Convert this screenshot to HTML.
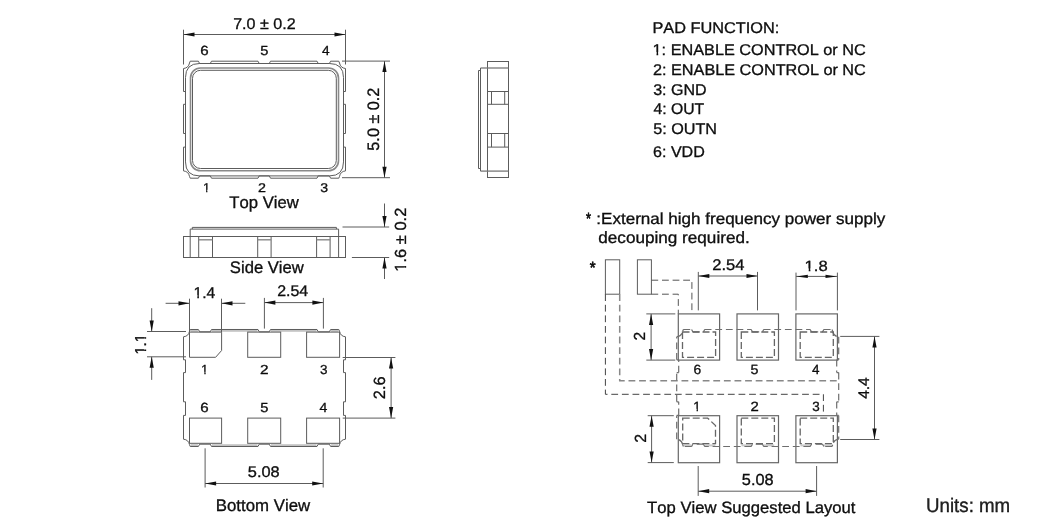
<!DOCTYPE html>
<html><head><meta charset="utf-8"><title>Package Drawing</title>
<style>
html,body{margin:0;padding:0;background:#fff;}
body{width:1037px;height:530px;overflow:hidden;}
svg{display:block;font-family:"Liberation Sans",sans-serif;font-kerning:none;will-change:transform;}
text{font-kerning:none;font-feature-settings:"kern" 0;text-rendering:geometricPrecision;stroke:#000;stroke-width:0.3px;}
</style></head><body>
<svg width="1037" height="530" viewBox="0 0 1037 530">
<rect x="0" y="0" width="1037" height="530" fill="#fff"/>
<line x1="183.5" y1="29.7" x2="183.5" y2="64.5" stroke="#5c5c5c" stroke-width="1" />
<line x1="345.5" y1="29.7" x2="345.5" y2="64.5" stroke="#5c5c5c" stroke-width="1" />
<line x1="183.5" y1="34.5" x2="345.5" y2="34.5" stroke="#5c5c5c" stroke-width="1" />
<polygon points="183.5,34.5 194.5,32.4 194.5,36.6" fill="#111" stroke="none"/>
<polygon points="345.5,34.5 334.5,32.4 334.5,36.6" fill="#111" stroke="none"/>
<text x="233.18" y="28.60" font-size="15.55" textLength="62.42" lengthAdjust="spacingAndGlyphs" fill="#111" >7.0 ± 0.2</text>
<text x="200.24" y="55.20" font-size="13.23" textLength="8.41" lengthAdjust="spacingAndGlyphs" fill="#111" >6</text>
<text x="260.31" y="55.20" font-size="13.23" textLength="8.20" lengthAdjust="spacingAndGlyphs" fill="#111" >5</text>
<text x="321.90" y="55.20" font-size="13.23" textLength="7.60" lengthAdjust="spacingAndGlyphs" fill="#111" >4</text>
<text x="203.02" y="191.80" font-size="12.65" textLength="7.03" lengthAdjust="spacingAndGlyphs" fill="#111" >1</text>
<rect x="202.77" y="189.78" width="3.34" height="3.62" fill="#fff"/>
<rect x="207.39" y="189.78" width="3.02" height="3.62" fill="#fff"/>
<text x="257.99" y="191.80" font-size="12.65" textLength="7.93" lengthAdjust="spacingAndGlyphs" fill="#111" >2</text>
<text x="320.16" y="191.80" font-size="12.65" textLength="7.84" lengthAdjust="spacingAndGlyphs" fill="#111" >3</text>
<text x="229.32" y="207.80" font-size="16.86" textLength="69.44" lengthAdjust="spacingAndGlyphs" fill="#111" >Top View</text>
<path d="M183.5,68.5 Q188.5,68 189.5,63 L190.2,61.2 H198.4 L199.6,63.5 H210.3 L211.5,61.2 H258 L259.2,63.5 H269.3 L270.5,61.2 H317 L318.2,63.5 H329.4 L330.6,61.2 H338.8 L339.5,63 Q340.5,68 345.5,68.5 V91.5 H343.5 V104.3 H345.5 V133.5 H343.5 V147.1 H345.5 V170.9 Q340.5,171.4 339.5,176.4 L338.8,178.2 H330.6 L329.4,175.9 H318.2 L317,178.2 H270.5 L269.3,175.9 H259.2 L258,178.2 H211.5 L210.3,175.9 H199.6 L198.4,178.2 H190.2 L189.5,176.4 Q188.5,171.4 183.5,170.9 V147.1 H185.5 V133.5 H183.5 V104.3 H185.5 V91.5 H183.5 Z" stroke="#5c5c5c" stroke-width="1" fill="none" />
<path d="M199.5,63.5 H329.5 Q343.5,63.5 343.5,77.5 V161.9 Q343.5,175.9 329.5,175.9 H199.5 Q185.5,175.9 185.5,161.9 V77.5 Q185.5,63.5 199.5,63.5 Z" stroke="#5c5c5c" stroke-width="1" fill="none" />
<rect x="190.5" y="68" width="148.0" height="102.80000000000001" stroke="#8a8a8a" stroke-width="1.6" fill="none" rx="10" ry="10"/>
<rect x="192.5" y="70.3" width="143.8" height="98.2" stroke="#5c5c5c" stroke-width="1" fill="none" rx="8" ry="8"/>
<line x1="342" y1="61.1" x2="390" y2="61.1" stroke="#5c5c5c" stroke-width="1" />
<line x1="342" y1="177.7" x2="390" y2="177.7" stroke="#5c5c5c" stroke-width="1" />
<line x1="384.5" y1="61.1" x2="384.5" y2="177.7" stroke="#5c5c5c" stroke-width="1" />
<polygon points="384.5,61.1 382.4,72.1 386.6,72.1" fill="#111" stroke="none"/>
<polygon points="384.5,177.7 382.4,166.7 386.6,166.7" fill="#111" stroke="none"/>
<text x="378.60" y="150.65" font-size="16.57" textLength="63.06" lengthAdjust="spacingAndGlyphs" fill="#111" transform="rotate(-90 378.60 150.65)" >5.0 ± 0.2</text>
<rect x="487.5" y="61.5" width="21.0" height="116.0" stroke="#5c5c5c" stroke-width="1" fill="none" />
<line x1="480.5" y1="68" x2="508.5" y2="68" stroke="#777" stroke-width="1.3" />
<line x1="480.5" y1="171.1" x2="508.5" y2="171.1" stroke="#777" stroke-width="1.3" />
<line x1="480.5" y1="68" x2="480.5" y2="171.1" stroke="#5c5c5c" stroke-width="1" />
<polyline points="480.5,70.5 478.5,70.5 478.5,168.5 480.5,168.5" stroke="#5c5c5c" stroke-width="1" fill="none" />
<line x1="487.5" y1="91.5" x2="508.5" y2="91.5" stroke="#5c5c5c" stroke-width="1" />
<line x1="487.5" y1="104.3" x2="508.5" y2="104.3" stroke="#5c5c5c" stroke-width="1" />
<line x1="491.5" y1="91.5" x2="491.5" y2="104.3" stroke="#5c5c5c" stroke-width="1" />
<line x1="504.7" y1="91.5" x2="504.7" y2="104.3" stroke="#5c5c5c" stroke-width="1" />
<line x1="487.5" y1="133.5" x2="508.5" y2="133.5" stroke="#5c5c5c" stroke-width="1" />
<line x1="487.5" y1="147.1" x2="508.5" y2="147.1" stroke="#5c5c5c" stroke-width="1" />
<line x1="491.5" y1="133.5" x2="491.5" y2="147.1" stroke="#5c5c5c" stroke-width="1" />
<line x1="504.7" y1="133.5" x2="504.7" y2="147.1" stroke="#5c5c5c" stroke-width="1" />
<rect x="183.5" y="236.5" width="162.0" height="21.0" stroke="#5c5c5c" stroke-width="1" fill="none" />
<polyline points="190.2,257.5 190.2,229.1 338.6,229.1 338.6,257.5" stroke="#5c5c5c" stroke-width="1" fill="none" />
<polyline points="192.3,229.1 192.3,227.4 336.4,227.4 336.4,229.1" stroke="#5c5c5c" stroke-width="1" fill="none" />
<line x1="198.7" y1="236.5" x2="198.7" y2="257.5" stroke="#5c5c5c" stroke-width="1" />
<line x1="212.5" y1="236.5" x2="212.5" y2="257.5" stroke="#5c5c5c" stroke-width="1" />
<line x1="198.7" y1="239.8" x2="212.5" y2="239.8" stroke="#888" stroke-width="1.4" />
<line x1="257.7" y1="236.5" x2="257.7" y2="257.5" stroke="#5c5c5c" stroke-width="1" />
<line x1="271.1" y1="236.5" x2="271.1" y2="257.5" stroke="#5c5c5c" stroke-width="1" />
<line x1="257.7" y1="239.8" x2="271.1" y2="239.8" stroke="#888" stroke-width="1.4" />
<line x1="316.6" y1="236.5" x2="316.6" y2="257.5" stroke="#5c5c5c" stroke-width="1" />
<line x1="330.1" y1="236.5" x2="330.1" y2="257.5" stroke="#5c5c5c" stroke-width="1" />
<line x1="316.6" y1="239.8" x2="330.1" y2="239.8" stroke="#888" stroke-width="1.4" />
<text x="229.85" y="273.30" font-size="16.72" textLength="74.00" lengthAdjust="spacingAndGlyphs" fill="#111" >Side View</text>
<line x1="342.5" y1="227" x2="389.2" y2="227" stroke="#5c5c5c" stroke-width="1" />
<line x1="351.9" y1="257.5" x2="389.2" y2="257.5" stroke="#5c5c5c" stroke-width="1" />
<line x1="384.5" y1="203.5" x2="384.5" y2="227" stroke="#5c5c5c" stroke-width="1" />
<line x1="384.5" y1="257.5" x2="384.5" y2="279" stroke="#5c5c5c" stroke-width="1" />
<polygon points="384.5,227 382.4,216 386.6,216" fill="#111" stroke="none"/>
<polygon points="384.5,257.5 382.4,268.5 386.6,268.5" fill="#111" stroke="none"/>
<text x="406.40" y="271.76" font-size="16.13" textLength="64.18" lengthAdjust="spacingAndGlyphs" fill="#111" transform="rotate(-90 406.40 271.76)" >1.6 ± 0.2</text>
<rect x="406.07" y="269.17" width="4.36" height="4.18" fill="#fff" transform="rotate(-90 406.40 271.76)"/>
<rect x="412.12" y="269.17" width="3.95" height="4.18" fill="#fff" transform="rotate(-90 406.40 271.76)"/>
<rect x="190.7" y="329.7" width="7.200000000000017" height="2.1000000000000227" stroke="none" stroke-width="1" fill="#c4c4c4" />
<rect x="190.7" y="444.20000000000005" width="7.200000000000017" height="2.099999999999966" stroke="none" stroke-width="1" fill="#c4c4c4" />
<rect x="212.0" y="329.7" width="45.5" height="2.1000000000000227" stroke="none" stroke-width="1" fill="#c4c4c4" />
<rect x="212.0" y="444.20000000000005" width="45.5" height="2.099999999999966" stroke="none" stroke-width="1" fill="#c4c4c4" />
<rect x="271.0" y="329.7" width="45.5" height="2.1000000000000227" stroke="none" stroke-width="1" fill="#c4c4c4" />
<rect x="271.0" y="444.20000000000005" width="45.5" height="2.099999999999966" stroke="none" stroke-width="1" fill="#c4c4c4" />
<rect x="331.1" y="329.7" width="7.199999999999989" height="2.1000000000000227" stroke="none" stroke-width="1" fill="#c4c4c4" />
<rect x="331.1" y="444.20000000000005" width="7.199999999999989" height="2.099999999999966" stroke="none" stroke-width="1" fill="#c4c4c4" />
<path d="M183.5,68.5 Q188.5,68 189.5,63 L190.2,61.2 H198.4 L199.6,63.5 H210.3 L211.5,61.2 H258 L259.2,63.5 H269.3 L270.5,61.2 H317 L318.2,63.5 H329.4 L330.6,61.2 H338.8 L339.5,63 Q340.5,68 345.5,68.5 V91.5 H343.5 V104.3 H345.5 V133.5 H343.5 V147.1 H345.5 V170.9 Q340.5,171.4 339.5,176.4 L338.8,178.2 H330.6 L329.4,175.9 H318.2 L317,178.2 H270.5 L269.3,175.9 H259.2 L258,178.2 H211.5 L210.3,175.9 H199.6 L198.4,178.2 H190.2 L189.5,176.4 Q188.5,171.4 183.5,170.9 V147.1 H185.5 V133.5 H183.5 V104.3 H185.5 V91.5 H183.5 Z" stroke="#5c5c5c" stroke-width="1" fill="none" transform="translate(0 268.3)"/>
<polygon points="189.5,332.1 221.6,332.1 221.6,350.5 215.6,357.3 189.5,357.3" stroke="#5c5c5c" stroke-width="1" fill="none" />
<rect x="189.5" y="418.1" width="32.099999999999994" height="25.19999999999999" stroke="#5c5c5c" stroke-width="1" fill="none" />
<rect x="247.7" y="332.1" width="33.0" height="25.19999999999999" stroke="#5c5c5c" stroke-width="1" fill="none" />
<rect x="247.7" y="418.1" width="33.0" height="25.19999999999999" stroke="#5c5c5c" stroke-width="1" fill="none" />
<rect x="306.6" y="332.1" width="33.0" height="25.19999999999999" stroke="#5c5c5c" stroke-width="1" fill="none" />
<rect x="306.6" y="418.1" width="33.0" height="25.19999999999999" stroke="#5c5c5c" stroke-width="1" fill="none" />
<text x="201.12" y="373.90" font-size="13.08" textLength="7.28" lengthAdjust="spacingAndGlyphs" fill="#111" >1</text>
<rect x="200.86" y="371.81" width="3.45" height="3.69" fill="#fff"/>
<rect x="205.65" y="371.81" width="3.13" height="3.69" fill="#fff"/>
<text x="260.13" y="373.90" font-size="13.08" textLength="8.54" lengthAdjust="spacingAndGlyphs" fill="#111" >2</text>
<text x="320.09" y="373.90" font-size="13.08" textLength="7.49" lengthAdjust="spacingAndGlyphs" fill="#111" >3</text>
<text x="200.34" y="412.20" font-size="13.23" textLength="8.41" lengthAdjust="spacingAndGlyphs" fill="#111" >6</text>
<text x="260.31" y="412.20" font-size="13.23" textLength="8.20" lengthAdjust="spacingAndGlyphs" fill="#111" >5</text>
<text x="319.59" y="412.20" font-size="13.23" textLength="7.82" lengthAdjust="spacingAndGlyphs" fill="#111" >4</text>
<line x1="189.5" y1="298.7" x2="189.5" y2="332" stroke="#5c5c5c" stroke-width="1" />
<line x1="221.5" y1="298.7" x2="221.5" y2="332" stroke="#5c5c5c" stroke-width="1" />
<line x1="165.6" y1="303.3" x2="189.5" y2="303.3" stroke="#5c5c5c" stroke-width="1" />
<polygon points="189.5,303.3 178.5,301.2 178.5,305.40000000000003" fill="#111" stroke="none"/>
<line x1="221.5" y1="303.3" x2="245.3" y2="303.3" stroke="#5c5c5c" stroke-width="1" />
<polygon points="221.5,303.3 232.5,301.2 232.5,305.40000000000003" fill="#111" stroke="none"/>
<text x="193.52" y="297.50" font-size="15.55" textLength="21.64" lengthAdjust="spacingAndGlyphs" fill="#111" >1.4</text>
<rect x="193.21" y="295.01" width="4.11" height="4.09" fill="#fff"/>
<rect x="198.90" y="295.01" width="3.72" height="4.09" fill="#fff"/>
<line x1="264.4" y1="297.9" x2="264.4" y2="328.6" stroke="#5c5c5c" stroke-width="1" />
<line x1="323.4" y1="297.9" x2="323.4" y2="328.6" stroke="#5c5c5c" stroke-width="1" />
<line x1="264.4" y1="302.6" x2="323.4" y2="302.6" stroke="#5c5c5c" stroke-width="1" />
<polygon points="264.4,302.6 275.4,300.5 275.4,304.70000000000005" fill="#111" stroke="none"/>
<polygon points="323.4,302.6 312.4,300.5 312.4,304.70000000000005" fill="#111" stroke="none"/>
<text x="277.20" y="296.20" font-size="15.41" textLength="31.07" lengthAdjust="spacingAndGlyphs" fill="#111" >2.54</text>
<line x1="147" y1="331.5" x2="186" y2="331.5" stroke="#5c5c5c" stroke-width="1" />
<line x1="147" y1="356.8" x2="186" y2="356.8" stroke="#5c5c5c" stroke-width="1" />
<line x1="151.7" y1="308.2" x2="151.7" y2="331.5" stroke="#5c5c5c" stroke-width="1" />
<polygon points="151.7,331.5 149.6,320.5 153.79999999999998,320.5" fill="#111" stroke="none"/>
<line x1="151.7" y1="356.8" x2="151.7" y2="379.9" stroke="#5c5c5c" stroke-width="1" />
<polygon points="151.7,356.8 149.6,367.8 153.79999999999998,367.8" fill="#111" stroke="none"/>
<text x="146.50" y="354.62" font-size="15.84" textLength="20.53" lengthAdjust="spacingAndGlyphs" fill="#111" transform="rotate(-90 146.50 354.62)" >1.1</text>
<rect x="146.20" y="352.09" width="3.90" height="4.13" fill="#fff" transform="rotate(-90 146.50 354.62)"/>
<rect x="151.61" y="352.09" width="3.53" height="4.13" fill="#fff" transform="rotate(-90 146.50 354.62)"/>
<rect x="158.52" y="352.09" width="3.90" height="4.13" fill="#fff" transform="rotate(-90 146.50 354.62)"/>
<rect x="163.93" y="352.09" width="3.53" height="4.13" fill="#fff" transform="rotate(-90 146.50 354.62)"/>
<line x1="342.7" y1="357.5" x2="395.4" y2="357.5" stroke="#5c5c5c" stroke-width="1" />
<line x1="342.7" y1="418.1" x2="395.4" y2="418.1" stroke="#5c5c5c" stroke-width="1" />
<line x1="391.1" y1="357.5" x2="391.1" y2="418.1" stroke="#5c5c5c" stroke-width="1" />
<polygon points="391.1,357.5 389.0,368.5 393.20000000000005,368.5" fill="#111" stroke="none"/>
<polygon points="391.1,418.1 389.0,407.1 393.20000000000005,407.1" fill="#111" stroke="none"/>
<text x="385.10" y="399.22" font-size="16.28" textLength="22.83" lengthAdjust="spacingAndGlyphs" fill="#111" transform="rotate(-90 385.10 399.22)" >2.6</text>
<line x1="205.1" y1="448.3" x2="205.1" y2="487.5" stroke="#5c5c5c" stroke-width="1" />
<line x1="323.2" y1="448.3" x2="323.2" y2="487.5" stroke="#5c5c5c" stroke-width="1" />
<line x1="205.1" y1="483.5" x2="323.2" y2="483.5" stroke="#5c5c5c" stroke-width="1" />
<polygon points="205.1,483.5 216.1,481.4 216.1,485.6" fill="#111" stroke="none"/>
<polygon points="323.2,483.5 312.2,481.4 312.2,485.6" fill="#111" stroke="none"/>
<text x="247.85" y="477.00" font-size="15.41" textLength="31.86" lengthAdjust="spacingAndGlyphs" fill="#111" >5.08</text>
<text x="215.82" y="510.70" font-size="16.72" textLength="94.34" lengthAdjust="spacingAndGlyphs" fill="#111" >Bottom View</text>
<text x="652.45" y="32.80" font-size="15.55" textLength="126.94" lengthAdjust="spacingAndGlyphs" fill="#111" >PAD FUNCTION:</text>
<text x="652.56" y="54.60" font-size="15.55" textLength="213.25" lengthAdjust="spacingAndGlyphs" fill="#111" >1: ENABLE CONTROL or NC</text>
<rect x="652.23" y="52.11" width="4.30" height="4.09" fill="#fff"/>
<rect x="658.20" y="52.11" width="3.90" height="4.09" fill="#fff"/>
<text x="652.99" y="75.10" font-size="15.55" textLength="212.82" lengthAdjust="spacingAndGlyphs" fill="#111" >2: ENABLE CONTROL or NC</text>
<text x="653.19" y="94.70" font-size="15.55" textLength="53.46" lengthAdjust="spacingAndGlyphs" fill="#111" >3: GND</text>
<text x="653.45" y="113.60" font-size="15.55" textLength="50.80" lengthAdjust="spacingAndGlyphs" fill="#111" >4: OUT</text>
<text x="653.15" y="134.40" font-size="15.55" textLength="63.86" lengthAdjust="spacingAndGlyphs" fill="#111" >5: OUTN</text>
<text x="653.00" y="156.60" font-size="15.55" textLength="51.86" lengthAdjust="spacingAndGlyphs" fill="#111" >6: VDD</text>
<text x="585.99" y="224.10" font-size="16.20" textLength="5.00" lengthAdjust="spacingAndGlyphs" fill="#111" style="stroke-width:0.6px">*</text>
<text x="596.35" y="224.10" font-size="15.99" textLength="288.89" lengthAdjust="spacingAndGlyphs" fill="#111" >:External high frequency power supply</text>
<text x="598.28" y="242.70" font-size="16.20" textLength="151.48" lengthAdjust="spacingAndGlyphs" fill="#111" >decouping required.</text>
<text x="589.76" y="273.30" font-size="16.20" textLength="5.87" lengthAdjust="spacingAndGlyphs" fill="#111" style="stroke-width:0.6px">*</text>
<rect x="605.4" y="259.8" width="14.300000000000068" height="34.39999999999998" stroke="#5c5c5c" stroke-width="1" fill="none" />
<rect x="637.4" y="259.8" width="14.0" height="34.39999999999998" stroke="#5c5c5c" stroke-width="1" fill="none" />
<polyline points="651.4,280.2 691.9,280.2 691.9,313.9" stroke="#555" stroke-width="1" fill="none" stroke-dasharray="6.8,3.8"/>
<polyline points="651.4,294.2 678.3,294.2 678.3,313.9" stroke="#555" stroke-width="1" fill="none" stroke-dasharray="6.8,3.8"/>
<polyline points="605.4,294.2 605.4,394.3 823.4,394.3 823.4,415.7" stroke="#444" stroke-width="1" fill="none" stroke-dasharray="6.8,3.8"/>
<polyline points="619.7,294.2 619.7,380.8 838,380.8" stroke="#888" stroke-width="1.5" fill="none" stroke-dasharray="6.8,3.8"/>
<line x1="698.3" y1="271.9" x2="698.3" y2="310.4" stroke="#5c5c5c" stroke-width="1" />
<line x1="757.5" y1="271.9" x2="757.5" y2="310.4" stroke="#5c5c5c" stroke-width="1" />
<line x1="698.3" y1="276" x2="757.5" y2="276" stroke="#5c5c5c" stroke-width="1" />
<polygon points="698.3,276 709.3,273.9 709.3,278.1" fill="#111" stroke="none"/>
<polygon points="757.5,276 746.5,273.9 746.5,278.1" fill="#111" stroke="none"/>
<text x="712.17" y="270.40" font-size="15.41" textLength="32.32" lengthAdjust="spacingAndGlyphs" fill="#111" >2.54</text>
<line x1="796" y1="272.6" x2="796" y2="310.4" stroke="#5c5c5c" stroke-width="1" />
<line x1="837.4" y1="272.6" x2="837.4" y2="310.4" stroke="#5c5c5c" stroke-width="1" />
<line x1="796" y1="276.4" x2="837.4" y2="276.4" stroke="#5c5c5c" stroke-width="1" />
<polygon points="796.3,276.4 807.8,274.79999999999995 807.8,278.0" fill="#111" stroke="none"/>
<polygon points="837,276.4 825.5,274.79999999999995 825.5,278.0" fill="#111" stroke="none"/>
<text x="804.64" y="270.80" font-size="14.83" textLength="23.08" lengthAdjust="spacingAndGlyphs" fill="#111" >1.8</text>
<rect x="804.31" y="268.43" width="4.38" height="3.97" fill="#fff"/>
<rect x="810.38" y="268.43" width="3.97" height="3.97" fill="#fff"/>
<rect x="678.3" y="313.9" width="41.30000000000007" height="46.200000000000045" stroke="#666" stroke-width="1.2" fill="none" />
<rect x="678.3" y="415.7" width="41.30000000000007" height="47.0" stroke="#666" stroke-width="1.2" fill="none" />
<rect x="737.0" y="313.9" width="41.5" height="46.200000000000045" stroke="#666" stroke-width="1.2" fill="none" />
<rect x="737.0" y="415.7" width="41.5" height="47.0" stroke="#666" stroke-width="1.2" fill="none" />
<rect x="795.9" y="313.9" width="41.5" height="46.200000000000045" stroke="#666" stroke-width="1.2" fill="none" />
<rect x="795.9" y="415.7" width="41.5" height="47.0" stroke="#666" stroke-width="1.2" fill="none" />
<rect x="683.6" y="444.4" width="7.7999999999999545" height="2.0" stroke="none" stroke-width="1" fill="#c8c8c8" />
<rect x="704.9" y="444.4" width="10.399999999999977" height="2.0" stroke="none" stroke-width="1" fill="#c8c8c8" />
<rect x="741.5" y="444.4" width="9.5" height="2.0" stroke="none" stroke-width="1" fill="#c8c8c8" />
<rect x="763.9" y="444.4" width="10.300000000000068" height="2.0" stroke="none" stroke-width="1" fill="#c8c8c8" />
<rect x="800.4" y="444.4" width="9.600000000000023" height="2.0" stroke="none" stroke-width="1" fill="#c8c8c8" />
<rect x="824.0" y="444.4" width="7.7999999999999545" height="2.0" stroke="none" stroke-width="1" fill="#c8c8c8" />
<path d="M183.5,68.5 Q188.5,68.0 189.5,63.0 M189.5,63.0 L190.2,61.2 M190.2,61.2 L198.4,61.2 M198.4,61.2 L199.6,63.5 M199.6,63.5 L210.3,63.5 M210.3,63.5 L211.5,61.2 M211.5,61.2 L258.0,61.2 M258.0,61.2 L259.2,63.5 M259.2,63.5 L269.3,63.5 M269.3,63.5 L270.5,61.2 M270.5,61.2 L317.0,61.2 M317.0,61.2 L318.2,63.5 M318.2,63.5 L329.4,63.5 M329.4,63.5 L330.6,61.2 M330.6,61.2 L338.8,61.2 M338.8,61.2 L339.5,63.0 M339.5,63.0 Q340.5,68.0 345.5,68.5 M345.5,68.5 L345.5,91.5 M345.5,91.5 L343.5,91.5 M343.5,91.5 L343.5,104.3 M343.5,104.3 L345.5,104.3 M345.5,104.3 L345.5,133.5 M345.5,133.5 L343.5,133.5 M343.5,133.5 L343.5,147.1 M343.5,147.1 L345.5,147.1 M345.5,147.1 L345.5,170.9 M345.5,170.9 Q340.5,171.4 339.5,176.4 M339.5,176.4 L338.8,178.2 M338.8,178.2 L330.6,178.2 M330.6,178.2 L329.4,175.9 M329.4,175.9 L318.2,175.9 M318.2,175.9 L317.0,178.2 M317.0,178.2 L270.5,178.2 M270.5,178.2 L269.3,175.9 M269.3,175.9 L259.2,175.9 M259.2,175.9 L258.0,178.2 M258.0,178.2 L211.5,178.2 M211.5,178.2 L210.3,175.9 M210.3,175.9 L199.6,175.9 M199.6,175.9 L198.4,178.2 M198.4,178.2 L190.2,178.2 M190.2,178.2 L189.5,176.4 M189.5,176.4 Q188.5,171.4 183.5,170.9 M183.5,170.9 L183.5,147.1 M183.5,147.1 L185.5,147.1 M185.5,147.1 L185.5,133.5 M185.5,133.5 L183.5,133.5 M183.5,133.5 L183.5,104.3 M183.5,104.3 L185.5,104.3 M185.5,104.3 L185.5,91.5 M185.5,91.5 L183.5,91.5 M183.5,91.5 L183.5,68.5" stroke="#6e6e6e" stroke-width="1.2" fill="none" transform="translate(493.2 268.3)" stroke-dasharray="6.8,3.8"/>
<rect x="682.5" y="332" width="33.10000000000002" height="25.399999999999977" stroke="#666" stroke-width="1.3" fill="none" stroke-dasharray="7,3"/>
<rect x="741.3" y="332" width="33.10000000000002" height="25.399999999999977" stroke="#666" stroke-width="1.3" fill="none" stroke-dasharray="7,3"/>
<rect x="800.2" y="332" width="33.09999999999991" height="25.399999999999977" stroke="#666" stroke-width="1.3" fill="none" stroke-dasharray="7,3"/>
<polygon points="682.7,418.2 707.7,418.2 715.5,425.5 715.5,443.7 682.7,443.7" stroke="#666" stroke-width="1.3" fill="none" stroke-dasharray="7,3"/>
<rect x="741.3" y="418.2" width="33.10000000000002" height="25.5" stroke="#666" stroke-width="1.3" fill="none" stroke-dasharray="7,3"/>
<rect x="800.2" y="418.2" width="33.09999999999991" height="25.5" stroke="#666" stroke-width="1.3" fill="none" stroke-dasharray="7,3"/>
<text x="693.51" y="373.70" font-size="13.37" textLength="7.69" lengthAdjust="spacingAndGlyphs" fill="#111" >6</text>
<text x="750.53" y="373.70" font-size="13.37" textLength="7.96" lengthAdjust="spacingAndGlyphs" fill="#111" >5</text>
<text x="812.00" y="373.70" font-size="13.37" textLength="7.49" lengthAdjust="spacingAndGlyphs" fill="#111" >4</text>
<text x="693.31" y="411.00" font-size="13.37" textLength="7.44" lengthAdjust="spacingAndGlyphs" fill="#111" >1</text>
<rect x="693.04" y="408.86" width="3.53" height="3.74" fill="#fff"/>
<rect x="697.93" y="408.86" width="3.20" height="3.74" fill="#fff"/>
<text x="750.45" y="411.00" font-size="13.37" textLength="8.29" lengthAdjust="spacingAndGlyphs" fill="#111" >2</text>
<text x="812.29" y="411.00" font-size="13.37" textLength="7.49" lengthAdjust="spacingAndGlyphs" fill="#111" >3</text>
<line x1="646.3" y1="313.9" x2="675.3" y2="313.9" stroke="#5c5c5c" stroke-width="1" />
<line x1="646.3" y1="360.1" x2="675.3" y2="360.1" stroke="#5c5c5c" stroke-width="1" />
<line x1="651.1" y1="313.9" x2="651.1" y2="360.1" stroke="#5c5c5c" stroke-width="1" />
<polygon points="651.1,313.9 649.0,324.9 653.2,324.9" fill="#111" stroke="none"/>
<polygon points="651.1,360.1 649.0,349.1 653.2,349.1" fill="#111" stroke="none"/>
<text x="644.90" y="340.58" font-size="15.99" textLength="8.66" lengthAdjust="spacingAndGlyphs" fill="#111" transform="rotate(-90 644.90 340.58)" >2</text>
<line x1="647.7" y1="415.7" x2="673.8" y2="415.7" stroke="#5c5c5c" stroke-width="1" />
<line x1="647.7" y1="462.6" x2="673.8" y2="462.6" stroke="#5c5c5c" stroke-width="1" />
<line x1="651.6" y1="415.7" x2="651.6" y2="462.6" stroke="#5c5c5c" stroke-width="1" />
<polygon points="651.6,415.7 649.5,426.7 653.7,426.7" fill="#111" stroke="none"/>
<polygon points="651.6,462.6 649.5,451.6 653.7,451.6" fill="#111" stroke="none"/>
<text x="646.40" y="442.69" font-size="16.13" textLength="8.78" lengthAdjust="spacingAndGlyphs" fill="#111" transform="rotate(-90 646.40 442.69)" >2</text>
<line x1="840.2" y1="336.4" x2="879.4" y2="336.4" stroke="#5c5c5c" stroke-width="1" />
<line x1="840.2" y1="439.5" x2="879.4" y2="439.5" stroke="#5c5c5c" stroke-width="1" />
<line x1="874.5" y1="336.4" x2="874.5" y2="439.5" stroke="#5c5c5c" stroke-width="1" />
<polygon points="874.5,336.4 872.4,347.4 876.6,347.4" fill="#111" stroke="none"/>
<polygon points="874.5,439.5 872.4,428.5 876.6,428.5" fill="#111" stroke="none"/>
<text x="869.20" y="398.84" font-size="15.41" textLength="21.59" lengthAdjust="spacingAndGlyphs" fill="#111" transform="rotate(-90 869.20 398.84)" >4.4</text>
<line x1="698.2" y1="466" x2="698.2" y2="495.9" stroke="#5c5c5c" stroke-width="1" />
<line x1="816.6" y1="466" x2="816.6" y2="495.9" stroke="#5c5c5c" stroke-width="1" />
<line x1="698.2" y1="491.2" x2="816.6" y2="491.2" stroke="#5c5c5c" stroke-width="1" />
<polygon points="698.2,491.2 709.2,489.09999999999997 709.2,493.3" fill="#111" stroke="none"/>
<polygon points="816.6,491.2 805.6,489.09999999999997 805.6,493.3" fill="#111" stroke="none"/>
<text x="741.85" y="484.80" font-size="15.99" textLength="31.76" lengthAdjust="spacingAndGlyphs" fill="#111" >5.08</text>
<text x="647.13" y="512.60" font-size="16.42" textLength="208.28" lengthAdjust="spacingAndGlyphs" fill="#111" >Top View Suggested Layout</text>
<text x="926.06" y="511.80" font-size="19.62" textLength="84.16" lengthAdjust="spacingAndGlyphs" fill="#222" >Units: mm</text>
</svg>
</body></html>
